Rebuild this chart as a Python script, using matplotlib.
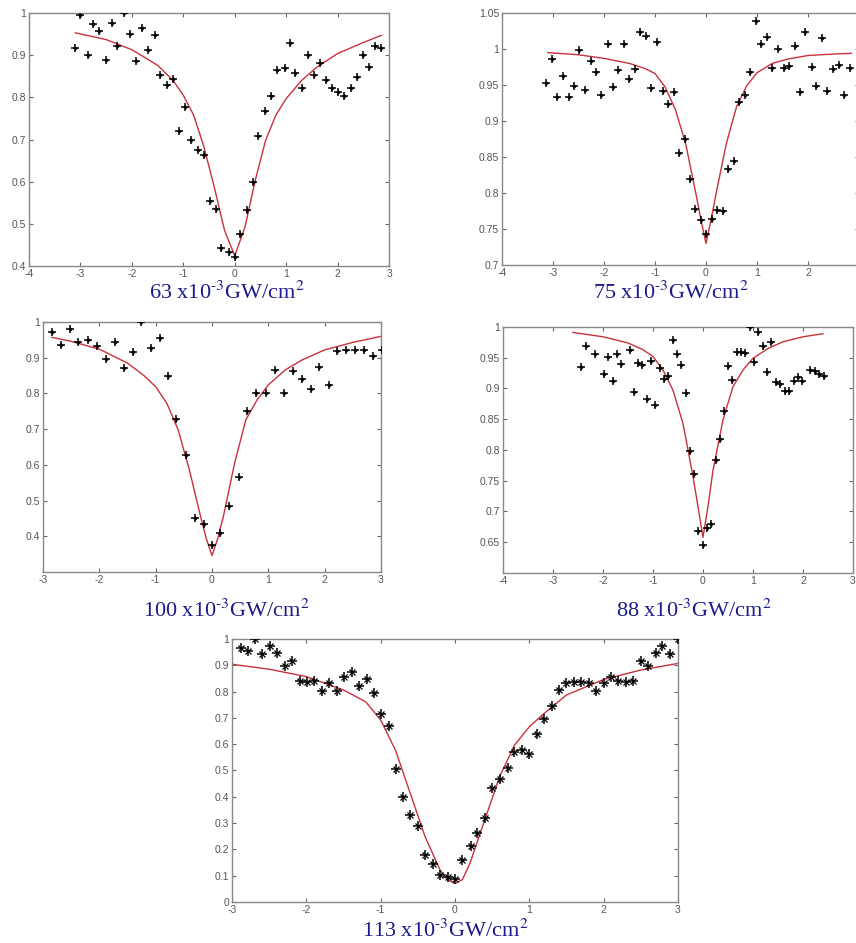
import matplotlib
matplotlib.use("Agg")
import matplotlib.pyplot as plt
import numpy as np

# ---- 63 x10^-3 GW/cm^2 ----
x63 = [-3.11, -3.00, -2.86, -2.75, -2.63, -2.51, -2.39, -2.28, -2.16, -2.03, -1.92, -1.80,
       -1.68, -1.56, -1.45, -1.32, -1.20, -1.08, -0.96, -0.85, -0.72, -0.60, -0.48, -0.37,
       -0.26, -0.12, 0.00, 0.10, 0.24, 0.36, 0.46, 0.59, 0.70, 0.82, 0.97, 1.07, 1.18, 1.30,
       1.43, 1.54, 1.66, 1.78, 1.89, 2.01, 2.13, 2.26, 2.37, 2.49, 2.61, 2.72, 2.85]
y63 = [0.916, 0.996, 0.901, 0.975, 0.958, 0.888, 0.976, 0.922, 1.000, 0.950, 0.886, 0.964,
       0.912, 0.948, 0.852, 0.830, 0.844, 0.721, 0.777, 0.700, 0.674, 0.663, 0.554, 0.535,
       0.442, 0.434, 0.422, 0.477, 0.533, 0.599, 0.708, 0.768, 0.803, 0.864, 0.870, 0.930,
       0.858, 0.821, 0.901, 0.852, 0.882, 0.841, 0.821, 0.813, 0.803, 0.822, 0.849, 0.900,
       0.872, 0.921, 0.916]
fx63 = [-3.1, -2.5, -2.0, -1.5, -1.2, -1.0, -0.8, -0.6, -0.4, -0.2, 0.0, 0.2, 0.4, 0.6,
        0.8, 1.0, 1.3, 1.6, 2.0, 2.5, 2.85]
fy63 = [0.953, 0.937, 0.913, 0.876, 0.840, 0.805, 0.758, 0.683, 0.588, 0.485, 0.424, 0.493,
        0.604, 0.698, 0.758, 0.797, 0.840, 0.872, 0.904, 0.930, 0.947]

# ---- 75 x10^-3 GW/cm^2 ----
x75 = [-3.14, -3.01, -2.92, -2.80, -2.69, -2.59, -2.48, -2.37, -2.26, -2.15, -2.05, -1.93,
       -1.83, -1.72, -1.61, -1.50, -1.40, -1.29, -1.18, -1.08, -0.96, -0.85, -0.75, -0.63,
       -0.53, -0.42, -0.31, -0.21, -0.10, 0.00, 0.12, 0.22, 0.33, 0.44, 0.54, 0.65, 0.76,
       0.86, 0.98, 1.08, 1.19, 1.30, 1.41, 1.52, 1.63, 1.74, 1.84, 1.95, 2.07, 2.16, 2.27,
       2.38, 2.49, 2.60, 2.71, 2.82]
y75 = [0.953, 0.986, 0.933, 0.963, 0.934, 0.948, 0.999, 0.943, 0.983, 0.968, 0.936, 1.007,
       0.947, 0.971, 1.007, 0.958, 0.972, 1.024, 1.018, 0.946, 1.010, 0.941, 0.924, 0.940,
       0.855, 0.875, 0.820, 0.778, 0.762, 0.743, 0.764, 0.776, 0.775, 0.833, 0.844, 0.927,
       0.936, 0.968, 1.039, 1.007, 1.017, 0.974, 1.000, 0.973, 0.976, 1.004, 0.940, 1.024,
       0.975, 0.948, 1.015, 0.942, 0.972, 0.978, 0.936, 0.974]
fx75 = [-3.1, -2.5, -2.0, -1.5, -1.2, -1.0, -0.8, -0.6, -0.4, -0.2, -0.1, 0.0, 0.1, 0.2,
        0.4, 0.6, 0.8, 1.0, 1.3, 1.6, 2.0, 2.5, 2.85]
fy75 = [0.995, 0.992, 0.987, 0.980, 0.973, 0.966, 0.947, 0.916, 0.869, 0.800, 0.763, 0.730,
        0.763, 0.800, 0.869, 0.920, 0.949, 0.967, 0.980, 0.986, 0.991, 0.993, 0.994]

# ---- 100 x10^-3 GW/cm^2 ----
x100 = [-2.84, -2.68, -2.52, -2.37, -2.20, -2.04, -1.88, -1.73, -1.57, -1.41, -1.26, -1.09,
        -0.93, -0.78, -0.63, -0.46, -0.31, -0.15, 0.00, 0.15, 0.31, 0.48, 0.63, 0.79, 0.96,
        1.11, 1.28, 1.43, 1.59, 1.75, 1.90, 2.07, 2.22, 2.38, 2.54, 2.70, 2.85, 3.02]
y100 = [0.973, 0.936, 0.980, 0.943, 0.949, 0.934, 0.896, 0.943, 0.870, 0.917, 1.000, 0.926,
        0.955, 0.849, 0.728, 0.629, 0.452, 0.434, 0.377, 0.408, 0.486, 0.565, 0.750, 0.801,
        0.801, 0.866, 0.800, 0.863, 0.840, 0.812, 0.875, 0.824, 0.918, 0.922, 0.922, 0.922,
        0.905, 0.922]
fx100 = [-2.84, -2.5, -2.0, -1.5, -1.2, -1.0, -0.8, -0.6, -0.4, -0.2, -0.1, 0.0, 0.1, 0.2,
         0.4, 0.6, 0.8, 1.0, 1.3, 1.6, 2.0, 2.5, 3.0]
fy100 = [0.957, 0.946, 0.924, 0.885, 0.849, 0.819, 0.772, 0.698, 0.585, 0.454, 0.393, 0.346,
         0.393, 0.454, 0.604, 0.726, 0.782, 0.824, 0.866, 0.894, 0.922, 0.943, 0.960]

# ---- 88 x10^-3 GW/cm^2 ----
x88 = [-2.43, -2.33, -2.15, -1.98, -1.90, -1.80, -1.72, -1.64, -1.46, -1.38, -1.29, -1.21,
       -1.11, -1.04, -0.95, -0.86, -0.77, -0.69, -0.60, -0.52, -0.44, -0.34, -0.26, -0.18,
       -0.09, 0.00, 0.08, 0.17, 0.26, 0.34, 0.43, 0.51, 0.59, 0.68, 0.77, 0.85, 0.95, 1.02,
       1.11, 1.20, 1.28, 1.36, 1.46, 1.54, 1.63, 1.72, 1.81, 1.89, 1.98, 2.14, 2.23, 2.32,
       2.41]
y88 = [0.935, 0.969, 0.956, 0.924, 0.951, 0.912, 0.956, 0.939, 0.962, 0.895, 0.942, 0.938,
       0.883, 0.945, 0.873, 0.934, 0.916, 0.920, 0.979, 0.956, 0.938, 0.892, 0.798, 0.761,
       0.669, 0.645, 0.673, 0.680, 0.783, 0.817, 0.863, 0.937, 0.913, 0.960, 0.960, 0.958,
       1.000, 0.943, 0.991, 0.969, 0.926, 0.975, 0.910, 0.907, 0.896, 0.896, 0.912, 0.919,
       0.912, 0.930, 0.929, 0.924, 0.920]
fx88 = [-2.6, -2.0, -1.5, -1.2, -1.0, -0.8, -0.6, -0.4, -0.2, -0.1, 0.0, 0.1, 0.2, 0.4,
        0.6, 0.8, 1.0, 1.3, 1.6, 2.0, 2.4]
fy88 = [0.991, 0.984, 0.974, 0.963, 0.952, 0.930, 0.897, 0.843, 0.757, 0.708, 0.658, 0.708,
        0.767, 0.849, 0.903, 0.930, 0.949, 0.965, 0.976, 0.984, 0.989]

# ---- 113 x10^-3 GW/cm^2 ----
x113 = [-2.88, -2.79, -2.69, -2.59, -2.49, -2.39, -2.29, -2.19, -2.09, -1.99, -1.89, -1.79,
        -1.69, -1.59, -1.49, -1.39, -1.29, -1.19, -1.09, -0.99, -0.89, -0.79, -0.70, -0.60,
        -0.50, -0.40, -0.30, -0.20, -0.10, 0.00, 0.10, 0.21, 0.30, 0.40, 0.50, 0.61, 0.71,
        0.80, 0.90, 1.00, 1.10, 1.20, 1.30, 1.40, 1.50, 1.60, 1.70, 1.80, 1.90, 2.00, 2.10,
        2.20, 2.30, 2.39, 2.50, 2.60, 2.70, 2.79, 2.89, 3.00]
y113 = [0.966, 0.953, 1.000, 0.943, 0.972, 0.945, 0.898, 0.916, 0.841, 0.836, 0.839, 0.802,
        0.834, 0.802, 0.854, 0.873, 0.820, 0.849, 0.794, 0.716, 0.671, 0.504, 0.398, 0.332,
        0.288, 0.179, 0.143, 0.102, 0.094, 0.089, 0.161, 0.214, 0.261, 0.320, 0.434, 0.466,
        0.508, 0.570, 0.579, 0.563, 0.640, 0.695, 0.745, 0.805, 0.831, 0.836, 0.836, 0.834,
        0.802, 0.834, 0.857, 0.839, 0.836, 0.841, 0.916, 0.898, 0.945, 0.973, 0.943, 1.000]
fx113 = [-3.0, -2.5, -2.0, -1.5, -1.2, -1.0, -0.8, -0.6, -0.4, -0.2, -0.1, 0.0, 0.1, 0.2,
         0.4, 0.6, 0.8, 1.0, 1.2, 1.5, 2.0, 2.5, 3.0]
fy113 = [0.904, 0.885, 0.857, 0.806, 0.761, 0.692, 0.577, 0.412, 0.247, 0.121, 0.085, 0.070,
         0.085, 0.146, 0.311, 0.476, 0.596, 0.666, 0.717, 0.787, 0.846, 0.882, 0.907]

captions = ["63", "75", "100", "88", "113"]

plt.rcParams["mathtext.fontset"] = "stix"
plt.rcParams["axes.unicode_minus"] = False
plt.rcParams["font.family"] = ["Liberation Sans", "DejaVu Sans"]

fig = plt.figure(figsize=(8.56, 9.43), dpi=100)

# [left, bottom, width, height], xlim, xticks, ylim, yticks, caption baseline (px)
panels = [
    ([0.0339, 0.7179, 0.4206, 0.2683], (-4, 3), np.arange(-4, 4), (0.4, 1.0),
     np.arange(0.4, 1.01, 0.1), x63, y63, fx63, fy63, (227, 299)),
    ([0.5864, 0.7190, 0.4171, 0.2672], (-4, 3), np.arange(-4, 3), (0.7, 1.05),
     np.arange(0.7, 1.051, 0.05), x75, y75, fx75, fy75, (671, 299)),
    ([0.0502, 0.3934, 0.3949, 0.2651], (-3, 3), np.arange(-3, 4), (0.3, 1.0),
     np.arange(0.4, 1.01, 0.1), x100, y100, fx100, fy100, (226, 617)),
    ([0.5876, 0.3924, 0.4089, 0.2609], (-4, 3), np.arange(-4, 4), (0.6, 1.0),
     np.arange(0.65, 1.001, 0.05), x88, y88, fx88, fy88, (694, 617)),
    ([0.2710, 0.0435, 0.5210, 0.2789], (-3, 3), np.arange(-3, 4), (0.0, 1.0),
     np.arange(0.0, 1.01, 0.1), x113, y113, fx113, fy113, (445, 937)),
]

for i, (rect, xl, xt, yl, yt, xs, ys, fxs, fys, cap) in enumerate(panels):
    ax = fig.add_axes(rect)
    ax.plot(fxs, fys, color="#c8323e", lw=1.0, zorder=2)
    if i == 4:
        # asterisk markers
        ax.plot(xs, ys, ls="none", marker="+", ms=7.5, mew=1.1, color="black", zorder=3)
        ax.plot(xs, ys, ls="none", marker="x", ms=4, mew=0.9, color="black", zorder=3)
    else:
        ax.plot(xs, ys, ls="none", marker="+", ms=6, mew=1.1, color="black", zorder=3)
        ax.plot(xs, ys, ls="none", marker="D", ms=2.4, mew=0, color="black", zorder=3)
    ax.set_xlim(*xl)
    ax.set_ylim(*yl)
    ax.set_xticks(xt)
    ax.set_yticks(yt)
    ax.set_yticklabels(["%g" % round(v, 2) for v in yt])
    ax.tick_params(direction="in", top=True, right=True, length=3, width=0.8,
                   color="#666666", labelsize=7.5, labelcolor="#555555", pad=2)
    for s in ax.spines.values():
        s.set_color("#888888")
        s.set_linewidth(1.0)
    fig.text(cap[0] / 856, 1 - cap[1] / 943,
             captions[i] + r" x10$^{\text{-}3}$GW/cm$^{2}$",
             ha="center", va="baseline", color="#1a1a8c",
             fontsize=16, family="Liberation Serif")

fig.savefig("out.png", dpi=100)
